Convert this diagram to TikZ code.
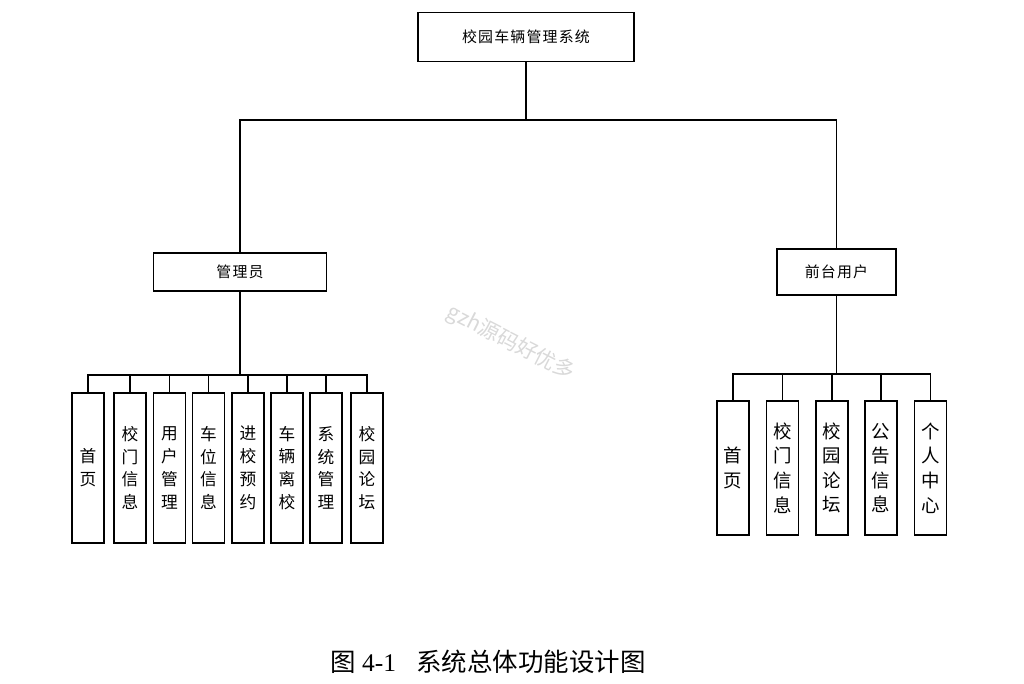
\documentclass[tikz,border=0pt]{standalone}
\usepackage{fontspec}
\setmainfont{Liberation Serif}
\newfontfamily\cjk{Noto Sans CJK SC}
\newfontfamily\cjkw[LetterSpace=8]{Noto Sans CJK SC}
\usepackage{tikz}
\usetikzlibrary{positioning}

\begin{document}
\begin{tikzpicture}[
  x=0.02cm, y=-0.02cm,
  line width=0.75pt,
  topbox/.style={draw, inner sep=0pt, minimum width=4.32cm, minimum height=0.98cm,
                 font=\cjkw\fontsize{8.5}{10}\selectfont},
  rolebox/.style={draw, inner sep=0pt, minimum height=0.76cm,
                  font=\cjkw\fontsize{8.5}{10}\selectfont},
  leaf/.style={draw, inner sep=0pt, minimum width=0.64cm, minimum height=3.0cm,
               align=center, font=\cjk\fontsize{9.5}{13}\selectfont},
  bigleaf/.style={leaf, minimum height=2.68cm, font=\cjk\fontsize{10.5}{14}\selectfont},
]
  \useasboundingbox (0,0) rectangle (1024,683);

  \node[topbox] (sys) at (526,37) {校园车辆管理系统};
  \node[rolebox, minimum width=3.46cm] (admin) at (240,272) {管理员};
  \node[rolebox, minimum width=2.38cm, minimum height=0.92cm] (user) at (836.5,272) {前台用户};

  \coordinate (topbus) at (526,120);
  \coordinate (abus)   at (240,375);
  \coordinate (ubus)   at (836.5,374);

  % admin side
  \node[leaf] (a1) at (88,468)  {首\\页};
  \node[leaf] (a2) at (130,468) {校\\门\\信\\息};
  \node[leaf] (a3) at (169.5,468) {用\\户\\管\\理};
  \node[leaf] (a4) at (208.5,468) {车\\位\\信\\息};
  \node[leaf] (a5) at (248,468) {进\\校\\预\\约};
  \node[leaf] (a6) at (287,468) {车\\辆\\离\\校};
  \node[leaf] (a7) at (326,468) {系\\统\\管\\理};
  \node[leaf] (a8) at (367,468) {校\\园\\论\\坛};

  % user side
  \node[bigleaf] (u1) at (733,468) {首\\页};
  \node[bigleaf] (u2) at (782.5,468) {校\\门\\信\\息};
  \node[bigleaf] (u3) at (832,468) {校\\园\\论\\坛};
  \node[bigleaf] (u4) at (881,468) {公\\告\\信\\息};
  \node[bigleaf] (u5) at (930.5,468) {个\\人\\中\\心};

  \draw (sys) -- (topbus);
  \draw (admin.north) -- (admin.north |- topbus) -- (user.north |- topbus) -- (user.north);

  \draw[line width=1.3pt] (admin) -- (abus);
  \draw (a1.north) |- (a8.north |- abus) -- (a8.north);
  \draw (a2.north) -- (a2.north |- abus);
  \draw (a3.north) -- (a3.north |- abus);
  \draw (a4.north) -- (a4.north |- abus);
  \draw (a5.north) -- (a5.north |- abus);
  \draw (a6.north) -- (a6.north |- abus);
  \draw (a7.north) -- (a7.north |- abus);

  \draw (user) -- (ubus);
  \draw (u1.north) |- (u5.north |- ubus) -- (u5.north);
  \draw (u2.north) -- (u2.north |- ubus);
  \draw (u3.north) -- (u3.north |- ubus);
  \draw (u4.north) -- (u4.north |- ubus);

  \node[rotate=-27, text=gray!30, font=\cjk\fontsize{12}{14}\selectfont] (mark) at (511,343) {gzh源码好优多};

  \node[font=\fontsize{14.5}{17}\selectfont] (caption) at (488,662)
    {{\cjk 图} 4-1\hspace{0.8em}{\cjk 系统总体功能设计图}};
\end{tikzpicture}
\end{document}
